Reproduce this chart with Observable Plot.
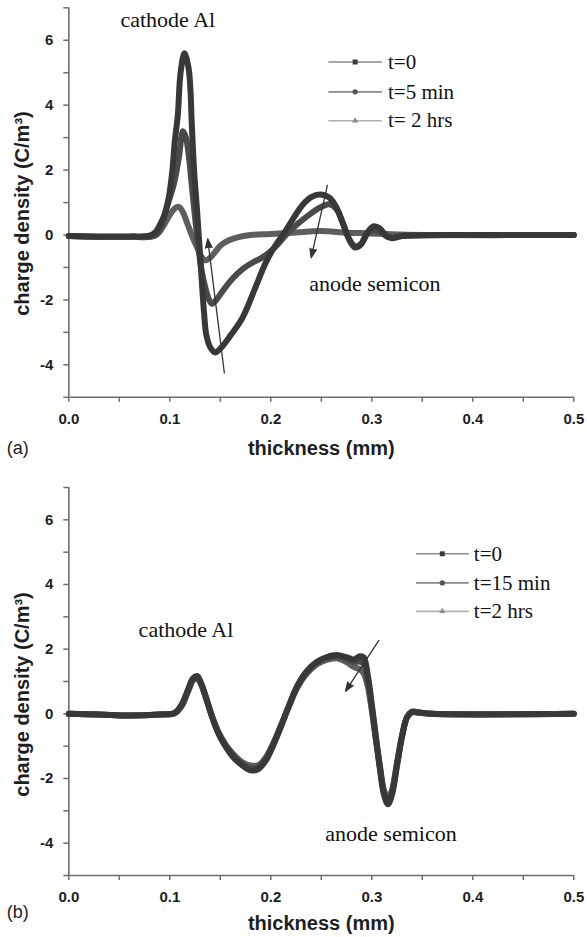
<!DOCTYPE html>
<html><head><meta charset="utf-8">
<script src="https://cdn.jsdelivr.net/npm/d3@7"></script>
<script src="https://cdn.jsdelivr.net/npm/@observablehq/plot@0.6"></script>
<style>
html,body{margin:0;padding:0;background:#fff}
body{width:587px;height:937px;overflow:hidden}
.panel{width:587px;position:relative}
svg{display:block}
g[aria-label="x-axis tick"], g[aria-label="y-axis tick"]{stroke:#6e6e6e;stroke-width:1.5px}
g[aria-label="x-axis tick label"], g[aria-label="y-axis tick label"]{font-weight:bold;fill:#1e1e1e}
</style></head><body>
<div class="panel" id="pa"></div>
<div class="panel" id="pb"></div>
<script>
// ---------- axes ----------
const xDomain = [0, 0.5];
const yDomain = [-5, 7];
const xTicks = [0, 0.05, 0.1, 0.15, 0.2, 0.25, 0.3, 0.35, 0.4, 0.45, 0.5];
const xTickLabels = ["0.0", "", "0.1", "", "0.2", "", "0.3", "", "0.4", "", "0.5"];
const yTicks = [-5, -4, -3, -2, -1, 0, 1, 2, 3, 4, 5, 6, 7];
const yTickLabels = ["", "-4", "", "-2", "", "0", "", "2", "", "4", "", "6", ""];
const xTitle = "thickness (mm)";
const yTitle = "charge density (C/m³)";

// ---------- panel (a) ----------
const aLabels = ["t=0", "t=5 min", "t= 2 hrs"];
const a0x = [0, 0.03, 0.06, 0.08, 0.086, 0.09, 0.095, 0.099, 0.1025, 0.105, 0.108, 0.1105, 0.1145, 0.1185, 0.1205, 0.1215, 0.123, 0.1245, 0.1265, 0.128, 0.1295, 0.131, 0.1325, 0.134, 0.136, 0.14, 0.145, 0.15, 0.16, 0.172, 0.185, 0.195, 0.205, 0.213, 0.222, 0.232, 0.24, 0.249, 0.258, 0.265, 0.271, 0.277, 0.283, 0.289, 0.295, 0.302, 0.308, 0.314, 0.32, 0.33, 0.4, 0.5];
const a0y = [-0.03, -0.05, -0.05, -0.02, 0.1, 0.3, 0.65, 1.16, 1.98, 2.9, 3.72, 4.95, 5.6, 5.16, 4.44, 3.62, 2.6, 1.77, 0.96, 0.3, -0.4, -1.1, -1.8, -2.43, -3.05, -3.46, -3.62, -3.5, -3.1, -2.55, -1.6, -0.85, -0.3, 0.05, 0.5, 0.95, 1.17, 1.25, 1.15, 0.85, 0.4, -0.1, -0.38, -0.3, 0.05, 0.27, 0.2, -0.02, -0.1, -0.03, 0, 0];
const a1x = [0, 0.03, 0.06, 0.085, 0.092, 0.097, 0.104, 0.109, 0.113, 0.116, 0.119, 0.122, 0.125, 0.128, 0.131, 0.135, 0.139, 0.142, 0.146, 0.153, 0.162, 0.172, 0.182, 0.19, 0.198, 0.206, 0.215, 0.225, 0.235, 0.246, 0.258, 0.265, 0.272, 0.278, 0.284, 0.29, 0.296, 0.302, 0.31, 0.318, 0.33, 0.4, 0.5];
const a1y = [-0.03, -0.05, -0.05, -0.02, 0.3, 0.85, 1.57, 2.39, 3.2, 3.0, 2.39, 1.46, 0.54, -0.3, -1.0, -1.6, -2.0, -2.12, -2.0, -1.7, -1.35, -1.05, -0.85, -0.72, -0.55, -0.32, 0.0, 0.3, 0.55, 0.8, 0.95, 0.8, 0.3, -0.15, -0.35, -0.25, 0.05, 0.15, 0.05, -0.08, -0.03, 0, 0];
const a2x = [0, 0.03, 0.06, 0.085, 0.09, 0.095, 0.1, 0.105, 0.109, 0.113, 0.118, 0.123, 0.127, 0.131, 0.135, 0.14, 0.145, 0.15, 0.158, 0.167, 0.18, 0.2, 0.225, 0.25, 0.275, 0.3, 0.32, 0.35, 0.5];
const a2y = [-0.03, -0.05, -0.05, -0.02, 0.1, 0.35, 0.62, 0.82, 0.87, 0.7, 0.3, -0.1, -0.38, -0.65, -0.78, -0.7, -0.52, -0.33, -0.17, -0.07, 0.0, 0.03, 0.08, 0.12, 0.07, 0.05, 0.02, 0, 0];

// ---------- panel (b) ----------
const bLabels = ["t=0", "t=15 min", "t=2 hrs"];
const bx = [0, 0.03, 0.06, 0.09, 0.105, 0.112, 0.118, 0.123, 0.127, 0.131, 0.136, 0.142, 0.148, 0.155, 0.163, 0.172, 0.18, 0.188, 0.195, 0.202, 0.21, 0.218, 0.226, 0.235, 0.245, 0.255, 0.265, 0.275, 0.282, 0.288, 0.292, 0.296, 0.3, 0.304, 0.308, 0.312, 0.316, 0.32, 0.325, 0.33, 0.335, 0.34, 0.345, 0.36, 0.5];
const b0y = [0, -0.02, -0.05, -0.02, 0.03, 0.3, 0.75, 1.1, 1.17, 0.95, 0.5, -0.1, -0.6, -1.0, -1.35, -1.6, -1.75, -1.7, -1.45, -1.0, -0.4, 0.25, 0.85, 1.3, 1.6, 1.75, 1.82, 1.75, 1.68, 1.78, 1.75, 1.2, 0.3, -0.7, -1.7, -2.5, -2.8, -2.5, -1.6, -0.7, -0.1, 0.07, 0.05, 0, 0];
const b1y = [0, -0.02, -0.05, -0.02, 0.03, 0.28, 0.72, 1.07, 1.14, 0.93, 0.48, -0.1, -0.58, -0.97, -1.3, -1.55, -1.68, -1.64, -1.4, -0.97, -0.38, 0.25, 0.83, 1.27, 1.57, 1.72, 1.78, 1.7, 1.6, 1.62, 1.55, 1.05, 0.2, -0.75, -1.65, -2.42, -2.7, -2.42, -1.55, -0.68, -0.1, 0.06, 0.05, 0, 0];
const b2y = [0, -0.02, -0.05, -0.02, 0.02, 0.25, 0.68, 1.03, 1.1, 0.9, 0.46, -0.1, -0.55, -0.94, -1.25, -1.5, -1.6, -1.58, -1.35, -0.94, -0.36, 0.24, 0.8, 1.22, 1.52, 1.67, 1.72, 1.6, 1.45, 1.38, 1.25, 0.85, 0.1, -0.8, -1.6, -2.35, -2.6, -2.35, -1.5, -0.66, -0.1, 0.05, 0.04, 0, 0];

const rows = (xs, ys) => xs.map((x, i) => ({x, y: ys[i]}));

const styles = [
  {color: "#383838", symbol: "square", lineColor: "#8a8a8a", dotColor: "#3a3a3a", r: 2.8},
  {color: "#4a4a4a", symbol: "circle", lineColor: "#8a8a8a", dotColor: "#555", r: 2.6},
  {color: "#5e5e5e", symbol: "triangle", lineColor: "#b0b0b0", dotColor: "#8a8a8a", r: 2.3}
];

const fmtX = d => { const i = xTicks.findIndex(t => Math.abs(t - d) < 1e-9); return i < 0 ? "" : xTickLabels[i]; };
const fmtY = d => { const i = yTicks.findIndex(t => Math.abs(t - d) < 1e-9); return i < 0 ? "" : yTickLabels[i]; };

function panel(el, cfg) {
  const marks = [];
  marks.push(Plot.ruleX([xDomain[0]], {stroke: "#6e6e6e", strokeWidth: 1.6}));
  marks.push(Plot.ruleY([yDomain[0]], {stroke: "#6e6e6e", strokeWidth: 1.6}));
  marks.push(Plot.axisX({ticks: xTicks, tickFormat: fmtX, tickSize: 5, tickPadding: 11, label: null}));
  marks.push(Plot.axisY({ticks: yTicks, tickFormat: fmtY, tickSize: 5, tickPadding: 10.5, label: null}));
  for (let k = cfg.series.length - 1; k >= 0; k--) {
    const s = cfg.series[k];
    marks.push(Plot.line(rows(s.x, s.y), {x: "x", y: "y", stroke: styles[k].color, strokeWidth: cfg.lineWidth, curve: "catmull-rom", strokeLinejoin: "round"}));
  }
  cfg.series.forEach((s, k) => {
    const L = cfg.legend;
    const yy = L.y[k];
    marks.push(Plot.link([s.label], {x1: L.x1, x2: L.x2, y1: yy, y2: yy, stroke: styles[k].lineColor, strokeWidth: 1.6}));
    marks.push(Plot.dot([s.label], {x: (L.x1 + L.x2) / 2, y: yy, symbol: styles[k].symbol, fill: styles[k].dotColor, stroke: "none", r: styles[k].r}));
    marks.push(Plot.text([s.label], {x: L.xt, y: yy, text: d => d, textAnchor: "start", fontFamily: "Liberation Serif", fontSize: 21, fill: "#111"}));
  });
  marks.push(Plot.arrow(cfg.arrows, {x1: "x1", y1: "y1", x2: "x2", y2: "y2", stroke: "#333", fill: "#333", strokeWidth: 1.3, headLength: 11, headAngle: 40}));
  marks.push(Plot.text(cfg.notes, {x: "x", y: "y", text: "text", textAnchor: "middle", fontFamily: "Liberation Serif", fontSize: 22, fill: "#111"}));
  marks.push(Plot.text([xTitle], {frameAnchor: "bottom", dy: cfg.xTitleDy, text: d => d, textAnchor: "middle", lineAnchor: "middle", fontFamily: "Liberation Sans", fontSize: 20, fontWeight: "bold", fill: "#1e1e1e"}));
  marks.push(Plot.text([yTitle], {frameAnchor: "left", dx: -46, dy: cfg.yTitleDy, rotate: -90, text: d => d, textAnchor: "middle", lineAnchor: "middle", fontFamily: "Liberation Sans", fontSize: 20, fontWeight: "bold", fill: "#1e1e1e"}));
  marks.push(Plot.text([cfg.tag], {frameAnchor: "bottom-left", dx: -62, dy: cfg.tagDy, text: d => d, textAnchor: "start", lineAnchor: "middle", fontFamily: "Liberation Sans", fontSize: 18, fill: "#1e1e1e"}));

  const chart = Plot.plot({
    width: 587, height: cfg.height,
    marginLeft: 68.3, marginRight: 13.7, marginTop: cfg.marginTop, marginBottom: cfg.marginBottom,
    x: {domain: xDomain}, y: {domain: yDomain},
    style: {fontFamily: "Liberation Sans", fontSize: "15px", background: "#fff", color: "#1e1e1e", overflow: "visible"},
    marks
  });
  el.append(chart);
}

panel(document.getElementById("pa"), {
  height: 470, marginTop: 7.3, marginBottom: 73.2, lineWidth: 6,
  series: [{label: aLabels[0], x: a0x, y: a0y}, {label: aLabels[1], x: a1x, y: a1y}, {label: aLabels[2], x: a2x, y: a2y}],
  legend: {x1: 0.257, x2: 0.310, xt: 0.316, y: [5.33, 4.41, 3.52]},
  arrows: [{x1: 0.154, y1: -4.25, x2: 0.1375, y2: -0.12}, {x1: 0.256, y1: 1.53, x2: 0.24, y2: -0.7}],
  notes: [{text: "cathode Al", x: 0.098, y: 6.62}, {text: "anode semicon", x: 0.303, y: -1.52}],
  xTitleDy: 51, yTitleDy: 11, tag: "(a)", tagDy: 51
});

panel(document.getElementById("pb"), {
  height: 467, marginTop: 17, marginBottom: 62, lineWidth: 6,
  series: [{label: bLabels[0], x: bx, y: b0y}, {label: bLabels[1], x: bx, y: b1y}, {label: bLabels[2], x: bx, y: b2y}],
  legend: {x1: 0.3436, x2: 0.396, xt: 0.401, y: [4.95, 4.05, 3.17]},
  arrows: [{x1: 0.307, y1: 2.27, x2: 0.274, y2: 0.7}],
  notes: [{text: "cathode Al", x: 0.116, y: 2.6}, {text: "anode semicon", x: 0.319, y: -3.7}],
  xTitleDy: 48, yTitleDy: 13, tag: "(b)", tagDy: 37
});
</script>
</body></html>
